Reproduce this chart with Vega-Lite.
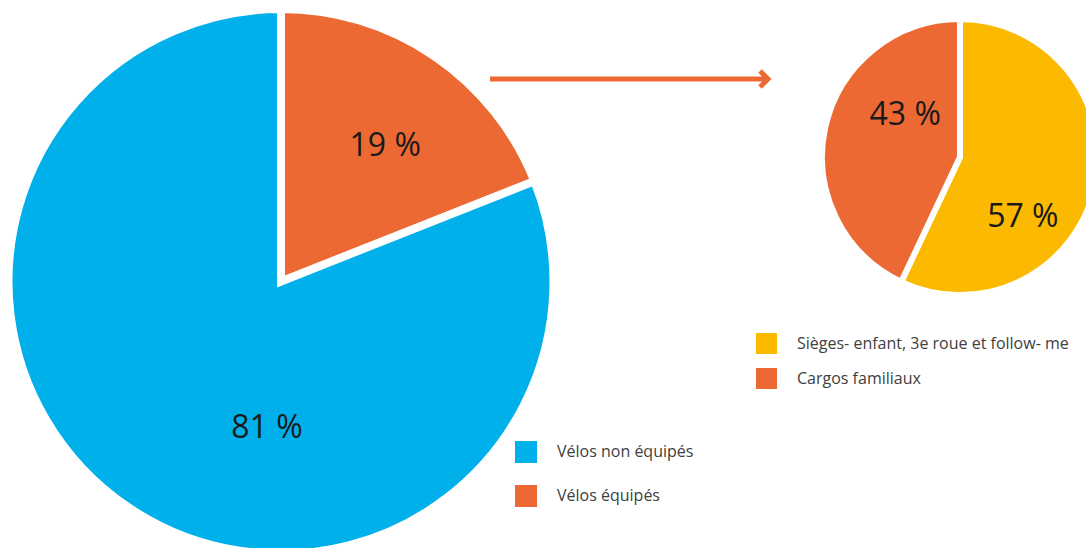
{
  "$schema": "https://vega.github.io/schema/vega-lite/v6.json",
  "padding": {"left": -8, "top": -7, "right": 0, "bottom": 0},
  "spacing": 274,
  "bounds": "flush",
  "config": {
    "view": {"stroke": null},
    "legend": {
      "symbolType": "square",
      "labelFont": "Open Sans",
      "labelFontSize": 16,
      "labelColor": "#404040",
      "labelOffset": 20,
      "padding": 0,
      "symbolStrokeWidth": 0,
      "symbolOpacity": 1,
      "labelLimit": 400,
      "orient": "none"
    },
    "text": {"font": "Open Sans", "fontSize": 32, "fill": "#1a1a1a", "align": "center", "baseline": "middle"}
  },
  "resolve": {"scale": {"color": "independent", "theta": "independent"}},
  "hconcat": [
    {
      "width": 562,
      "height": 561,
      "data": {"values": [
        {"cat": "Vélos équipés", "value": 19, "label": "19 %", "order": 1},
        {"cat": "Vélos non équipés", "value": 81, "label": "81 %", "order": 2}
      ]},
      "layer": [
        {
          "mark": {"type": "arc", "outerRadius": 272.5, "stroke": "#ffffff", "strokeWidth": 8},
          "encoding": {
            "theta": {"field": "value", "type": "quantitative", "stack": true},
            "order": {"field": "order", "type": "quantitative"},
            "color": {
              "field": "cat", "type": "nominal",
              "scale": {"domain": ["Vélos non équipés", "Vélos équipés"], "range": ["#00B0EB", "#EC6933"]},
              "legend": {"title": null, "legendX": 515, "legendY": 440, "symbolSize": 484, "rowPadding": 22}
            }
          }
        },
        {
          "mark": {"type": "text", "radius": 171, "thetaOffset": 0.058},
          "encoding": {
            "theta": {"field": "value", "type": "quantitative", "stack": true},
            "order": {"field": "order", "type": "quantitative"},
            "text": {"condition": {"test": "datum.cat === 'Vélos équipés'", "field": "label"}, "value": ""}
          }
        },
        {
          "mark": {"type": "text", "radius": 147, "thetaOffset": -0.501},
          "encoding": {
            "theta": {"field": "value", "type": "quantitative", "stack": true},
            "order": {"field": "order", "type": "quantitative"},
            "text": {"condition": {"test": "datum.cat === 'Vélos non équipés'", "field": "label"}, "value": ""}
          }
        },
        {
          "data": {"values": [{"annotation": "flèche"}]},
          "mark": {"type": "rule", "stroke": "#EC6933", "strokeWidth": 5},
          "encoding": {"x": {"value": 490}, "x2": {"value": 766}, "y": {"value": 78}}
        },
        {
          "data": {"values": [{"annotation": "pointe"}]},
          "mark": {"type": "point", "shape": "M-1,-1L0,0L-1,1", "filled": false, "stroke": "#EC6933", "strokeWidth": 5, "strokeJoin": "miter", "size": 256, "opacity": 1},
          "encoding": {"x": {"value": 768}, "y": {"value": 78}}
        }
      ]
    },
    {
      "width": 248,
      "height": 312,
      "data": {"values": [
        {"cat": "Sièges- enfant, 3e roue et follow- me", "value": 57, "label": "57 %", "order": 1},
        {"cat": "Cargos familiaux", "value": 43, "label": "43 %", "order": 2}
      ]},
      "layer": [
        {
          "mark": {"type": "arc", "outerRadius": 138, "stroke": "#ffffff", "strokeWidth": 6},
          "encoding": {
            "theta": {"field": "value", "type": "quantitative", "stack": true},
            "order": {"field": "order", "type": "quantitative"},
            "color": {
              "field": "cat", "type": "nominal",
              "scale": {"domain": ["Sièges- enfant, 3e roue et follow- me", "Cargos familiaux"], "range": ["#FBB900", "#EC6933"]},
              "legend": {"title": null, "legendX": -80, "legendY": 332, "symbolSize": 441, "rowPadding": 14}
            }
          }
        },
        {
          "mark": {"type": "text", "radius": 87, "thetaOffset": 0.543},
          "encoding": {
            "theta": {"field": "value", "type": "quantitative", "stack": true},
            "order": {"field": "order", "type": "quantitative"},
            "text": {"condition": {"test": "datum.cat === 'Sièges- enfant, 3e roue et follow- me'", "field": "label"}, "value": ""}
          }
        },
        {
          "mark": {"type": "text", "radius": 69, "thetaOffset": 0.433},
          "encoding": {
            "theta": {"field": "value", "type": "quantitative", "stack": true},
            "order": {"field": "order", "type": "quantitative"},
            "text": {"condition": {"test": "datum.cat === 'Cargos familiaux'", "field": "label"}, "value": ""}
          }
        }
      ]
    }
  ]
}
